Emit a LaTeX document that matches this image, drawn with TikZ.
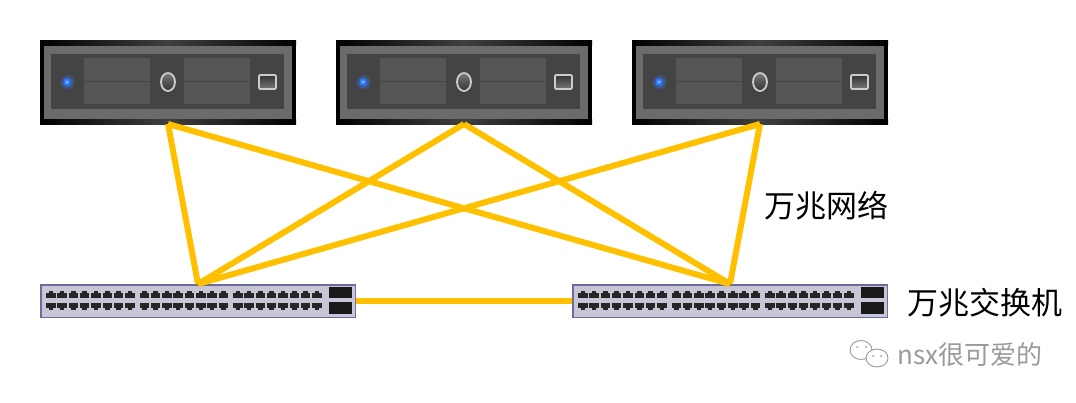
\documentclass[tikz,border=0pt]{standalone}
\usepackage{fontspec}
\setmainfont{Noto Sans CJK SC}
\usetikzlibrary{positioning}
\definecolor{linkyellow}{HTML}{FFC000}
\definecolor{srvrim}{HTML}{6B6B6B}
\definecolor{srvpanel}{HTML}{444444}
\definecolor{srvbay}{HTML}{555555}
\definecolor{swbody}{HTML}{C6C6D6}
\definecolor{swedge}{HTML}{6C6C9C}
\definecolor{markgray}{HTML}{9A9A9A}
\definecolor{ledblue}{HTML}{2F7BFF}
\definecolor{ledcore}{HTML}{7FC4FF}
\tikzset{
  serverbox/.style={draw=none, fill=black, minimum width=256pt, minimum height=84pt, inner sep=0pt, outer sep=0pt},
  switchbox/.style={draw=swedge, line width=1.5pt, fill=swbody, minimum width=314.5pt, minimum height=32.5pt, inner sep=0pt, outer sep=0.75pt},
  link/.style={draw=linkyellow, line width=6pt, line join=miter},
  caption/.style={font=\fontsize{31}{35}\selectfont, inner sep=0pt, text=black},
  watermark/.style={font=\fontsize{26}{30}\selectfont, inner sep=0pt, text=markgray},
  bubble/.style={draw=markgray, line width=0.9pt, fill=white},
  serverface/.pic={
    % rim and panel
    \fill[srvrim] (-124,-37) rectangle (124,37);
    \shade[left color=black, right color=black, middle color=black!75] (-128,-42) rectangle (128,-37);
    \shade[left color=black, right color=black, middle color=black!75] (-128,37) rectangle (128,42);
    \fill[srvpanel] (-117,-28) rectangle (116,27);
    % drive bays
    \foreach \bx in {-84,16} {
      \fill[srvbay] (\bx,-24) rectangle ++(66,23);
      \fill[srvbay] (\bx,0) rectangle ++(66,22);
    }
    % power led
    \shade[inner color=ledblue, outer color=srvpanel] (-101,0) circle (8pt);
    \fill[ledblue] (-101,0) circle (3.5pt);
    \fill[ledcore] (-101,0) circle (1.5pt);
    % button and socket
    \draw[white!80!black, line width=1.8pt, top color=srvbay!80!white, bottom color=black!80] (0,0) ellipse (7pt and 9pt);
    \draw[white!80!black, line width=1.6pt, rounded corners=1pt, top color=black!80, bottom color=srvbay!80!white] (91,-7) rectangle (108,7);
  },
  switchface/.pic={
    % rj45 ports, three groups of eight
    \foreach \gx in {0,1,2} {
      \foreach \px in {0,...,7} {
        \fill[black!85] (-152+\gx*93.5+\px*11.3,-8) rectangle ++(9.5,5);
        \fill[black!85] (-149.5+\gx*93.5+\px*11.3,-10) rectangle ++(4.5,3);
        \fill[black!85] (-152+\gx*93.5+\px*11.3,2) rectangle ++(9.5,5);
        \fill[black!85] (-149.5+\gx*93.5+\px*11.3,6) rectangle ++(4.5,3);
      }
    }
    % uplink cages
    \fill[black!90] (131,-14) rectangle (154,-3);
    \fill[black!90] (131,1) rectangle (154,13);
  }
}
\begin{document}
\begin{tikzpicture}[x=1pt, y=-1pt]
    \useasboundingbox (0,0) rectangle (1076,402);
    % servers
    \node[serverbox] (srvA) at (168,82) {};
    \node[serverbox] (srvB) at (464,82) {};
    \node[serverbox] (srvC) at (760,82) {};
    \pic at (srvA) {serverface};
    \pic at (srvB) {serverface};
    \pic at (srvC) {serverface};
    % switches
    \node[switchbox] (swL) at (198,301) {};
    \node[switchbox] (swR) at (730,301) {};
    \pic at (swL) {switchface};
    \pic at (swR) {switchface};
    % links
    \draw[link] (srvA.south) -- (swL.north);
    \draw[link] (srvA.south) -- (swR.north);
    \draw[link] (srvB.south) -- (swL.north);
    \draw[link] (srvB.south) -- (swR.north);
    \draw[link] (srvC.south) -- (swL.north);
    \draw[link] (srvC.south) -- (swR.north);
    \draw[link] (swL.east) -- (swR.west);
    % labels
    \node[caption, anchor=west] (netlabel) at (764,206) {万兆网络};
    \node[caption, anchor=west] (swlabel) at (907,303) {万兆交换机};
    % watermark
    \draw[bubble] (861,350) ellipse (11pt and 9.5pt);
    \draw[bubble] (877,358) ellipse (11pt and 9pt);
    \fill[markgray] (857,347) circle (1pt) (866,347) circle (1pt) (873,356) circle (1pt) (881,356) circle (1pt);
    \node[watermark, anchor=west] (mark) at (897,355) {nsx很可爱的};
\end{tikzpicture}
\end{document}
